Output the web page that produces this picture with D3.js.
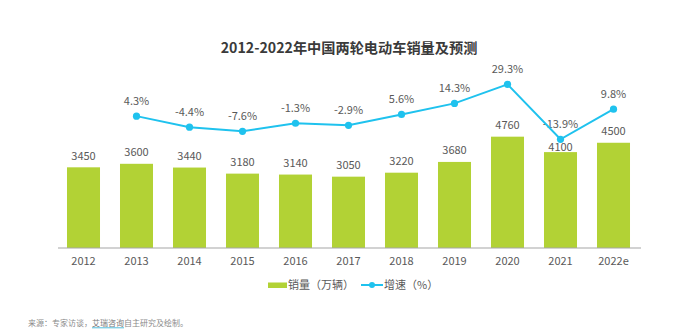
<!DOCTYPE html>
<html><head><meta charset="utf-8">
<script src="https://cdn.jsdelivr.net/npm/d3@7"></script>
<style>
body{margin:0;background:#fff;}
svg{display:block;}
text{font-family:"Noto Sans CJK SC","Open Sans",sans-serif;}
</style></head>
<body>
<svg id="c" width="700" height="331"></svg>
<script>
const years = ["2012","2013","2014","2015","2016","2017","2018","2019","2020","2021","2022e"];
const sales = [3450,3600,3440,3180,3140,3050,3220,3680,4760,4100,4500];
const growthYears = ["2013","2014","2015","2016","2017","2018","2019","2020","2021","2022e"];
const growth = [4.3,-4.4,-7.6,-1.3,-2.9,5.6,14.3,29.3,-13.9,9.8];
const title = "2012-2022年中国两轮电动车销量及预测";
const legendLabels = ["销量（万辆）","增速（%）"];
const sourcePre = "来源：专家访谈，";
const sourceLink = "艾瑞咨询";
const sourcePost = "自主研究及绘制。";

const green = "#b2d235", blue = "#1fc2ee", txt = "#595959";
const svg = d3.select("#c");

const x = d3.scaleBand().domain(years).range([57,640]).paddingInner(0.377).paddingOuter(0.1885);
const y = d3.scaleLinear().domain([0,8000]).range([248, 60.9]);
const yg = d3.scaleLinear().domain([-13.9,29.3]).range([139.3,84.3]);

svg.append("text").attr("x",349).attr("y",53).attr("text-anchor","middle")
  .attr("font-size",14.2).attr("font-weight","bold").attr("fill","#3a3a3a").text(title);

// bars
svg.selectAll("rect.bar").data(years).join("rect").attr("class","bar")
  .attr("x",d=>x(d)).attr("width",x.bandwidth())
  .attr("y",(d,i)=>y(sales[i])).attr("height",(d,i)=>y(0)-y(sales[i]))
  .attr("fill",green);

// bar labels
svg.selectAll("text.bl").data(years).join("text").attr("class","bl")
  .attr("x",d=>x(d)+x.bandwidth()/2)
  .attr("y",(d,i)=>y(sales[i]) - (d==="2021"?1.5:7.5))
  .attr("text-anchor","middle").attr("font-size",11).attr("fill",txt)
  .text((d,i)=>sales[i]);

// x axis
const ax = svg.append("g").attr("transform","translate(0,248)")
  .call(d3.axisBottom(x).tickSize(0).tickPadding(9));
ax.select(".domain").attr("stroke","#a6a6a6").attr("stroke-width",1.2).attr("d","M58,0H641");
ax.selectAll("text").attr("font-size",11).attr("fill",txt).attr("font-family",'"Noto Sans CJK SC","Open Sans",sans-serif');

// growth labels (drawn before line so the line passes over)
const cx = d => x(d)+x.bandwidth()/2;
svg.selectAll("text.gl").data(growthYears).join("text").attr("class","gl")
  .attr("x",d=>cx(d)).attr("y",(d,i)=>yg(growth[i])-11.5)
  .attr("text-anchor","middle").attr("font-size",11).attr("fill",txt)
  .text((d,i)=>growth[i].toFixed(1)+"%");

// line
const line = d3.line().x((d,i)=>cx(growthYears[i])).y(d=>yg(d));
svg.append("path").datum(growth).attr("d",line).attr("fill","none")
  .attr("stroke",blue).attr("stroke-width",2);
svg.selectAll("circle.pt").data(growth).join("circle").attr("class","pt")
  .attr("cx",(d,i)=>cx(growthYears[i])).attr("cy",d=>yg(d)).attr("r",3.6).attr("fill",blue);

// legend
const lg = svg.append("g");
lg.append("rect").attr("x",268).attr("y",282.5).attr("width",19).attr("height",5.5).attr("fill",green);
lg.append("text").attr("x",288).attr("y",289).attr("font-size",11).attr("fill",txt).text(legendLabels[0]);
lg.append("line").attr("x1",361).attr("x2",383).attr("y1",285).attr("y2",285).attr("stroke",blue).attr("stroke-width",2);
lg.append("circle").attr("cx",372).attr("cy",285).attr("r",3).attr("fill",blue);
lg.append("text").attr("x",384).attr("y",289).attr("font-size",11).attr("fill",txt).text(legendLabels[1]);

// source
const src = svg.append("text").attr("x",28).attr("y",326).attr("font-size",8).attr("fill","#8a8a8a");
src.append("tspan").text(sourcePre);
src.append("tspan").attr("fill","#7a7a7a").text(sourceLink);
src.append("tspan").text(sourcePost);
const pre = src.node().getSubStringLength ? null : null;
// underline under the link part
const full = src.node();
const startX = 28 + full.getSubStringLength(0, sourcePre.length);
const linkW = full.getSubStringLength(sourcePre.length, sourceLink.length);
svg.append("line").attr("x1",startX).attr("x2",startX+linkW).attr("y1",327.8).attr("y2",327.8)
  .attr("stroke","#3fb6d6").attr("stroke-width",0.9);
</script>
</body></html>
